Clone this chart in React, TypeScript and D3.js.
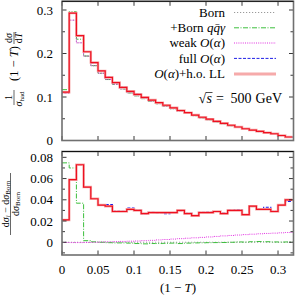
import React from 'react'
import * as d3 from 'd3'

// bin edges in (1-T)
const binEdges = [0, 0.01, 0.02, 0.03, 0.04, 0.05, 0.06, 0.07, 0.08, 0.09, 0.1, 0.11, 0.12, 0.13, 0.14, 0.15, 0.16,
  0.17, 0.18, 0.19, 0.2, 0.21, 0.22, 0.23, 0.24, 0.25, 0.26, 0.27, 0.28, 0.29, 0.3, 0.31, 0.32]

// Born distribution 1/sigma (1-T) dsigma/dT
const bornTop = [0.1087, 0.2767, 0.2246, 0.1939, 0.172, 0.1546, 0.1402, 0.1293, 0.1186, 0.1096, 0.1029, 0.0964,
  0.0905, 0.0846, 0.0788, 0.073, 0.067, 0.0623, 0.0571, 0.052, 0.0477, 0.0428, 0.0385, 0.034, 0.0301, 0.0263,
  0.0232, 0.0204, 0.0175, 0.0151, 0.0111, 0.0077]

// relative corrections (dsigma_i - dsigma_Born) / dsigma_Born
const relQQG = [0.0748, 0.07, 0.0368, 0.0015, 0.0004, 0, -0.0004, -0.0006, -0.0006, -0.0008, -0.0012, -0.0015,
  -0.0012, -0.0012, -0.001, -0.0008, -0.0012, -0.0008, -0.0006, -0.0005, -0.0004, -0.0003, -0.0002, 0, 0.0003,
  0.0002, 0.0005, 0.0007, 0.0005, 0.0003, 0.0002, 0.0003]
const relWeak = [-0.0002, -0.0003, -0.0003, -0.0002, 0, 0.0002, 0.0004, 0.0006, 0.0008, 0.001, 0.0012, 0.0015,
  0.0018, 0.0022, 0.0026, 0.003, 0.0034, 0.0038, 0.0042, 0.0046, 0.005, 0.0055, 0.006, 0.0064, 0.0068, 0.0072,
  0.0076, 0.008, 0.0083, 0.0086, 0.0089, 0.0092]
const relFull = [0.0205, 0.0585, 0.0728, 0.0522, 0.0412, 0.0352, 0.0355, 0.0295, 0.0292, 0.0322, 0.0302, 0.0268,
  0.0282, 0.0278, 0.027, 0.028, 0.0298, 0.0272, 0.025, 0.0282, 0.0285, 0.029, 0.0275, 0.03, 0.0305, 0.0262,
  0.0338, 0.0318, 0.033, 0.0292, 0.0352, 0.0385]
const relHoLL = [0.021, 0.059, 0.073, 0.052, 0.041, 0.035, 0.034, 0.029, 0.029, 0.031, 0.03, 0.027, 0.028, 0.028,
  0.028, 0.028, 0.03, 0.027, 0.025, 0.028, 0.028, 0.029, 0.027, 0.03, 0.03, 0.026, 0.034, 0.031, 0.031, 0.029,
  0.035, 0.04]

const xTicks = [0, 0.05, 0.1, 0.15, 0.2, 0.25, 0.3]
const xTickLabels = ['0', '0.05', '0.1', '0.15', '0.2', '0.25', '0.3']
const topYTicks = [0, 0.05, 0.1, 0.15, 0.2, 0.25, 0.3]
const topYLabels = [0, 0.1, 0.2, 0.3]
const botYTicks = [-0.01, 0, 0.01, 0.02, 0.03, 0.04, 0.05, 0.06, 0.07, 0.08]
const botYLabels = [0, 0.02, 0.04, 0.06, 0.08]

const FONT = "'Liberation Serif', serif"

const series = [
  { key: 'born', rel: bornTop.map(() => 0), color: '#9a9a9a', width: 1, dash: '1.2,1.8' },
  { key: 'qqg', rel: relQQG, color: '#3cbf3c', width: 1, dash: '5,1.5,1,1.5' },
  { key: 'weak', rel: relWeak, color: '#e030e0', width: 1, dash: '1,1.2' },
  { key: 'full', rel: relFull, color: '#1f1fe6', width: 1.1, dash: '3,1.5' },
  { key: 'holl', rel: relHoLL, color: '#ee1020', width: 1.2, dash: null, halo: '#f6aaaa' },
]

const x = d3.scaleLinear().domain([0, 0.3215]).range([62, 293.5])
const yTop = d3.scaleLinear().domain([0, 0.32]).range([140.5, 1.3])
const yBot = d3.scaleLinear().domain([-0.012, 0.0855]).range([255, 151.5])

function stepPath(vals: number[], y: d3.ScaleLinear<number, number>) {
  const pts: [number, number][] = binEdges.map((e, i) => [e, vals[Math.min(i, vals.length - 1)]])
  return d3.line<[number, number]>()
    .x(d => x(d[0]))
    .y(d => y(d[1]))
    .curve(d3.curveStepAfter)(pts) || ''
}

function Frame({ y, ticks, minor }: { y: d3.ScaleLinear<number, number>, ticks: number[], minor: (v: number) => boolean }) {
  const [y0, y1] = y.range()
  const [x0, x1] = x.range()
  return (
    <g>
      {xTicks.map(t => (
        <g key={'x' + t} stroke="#222" strokeWidth={0.9}>
          <line x1={x(t)} x2={x(t)} y1={y0} y2={y0 - 4.5} />
          <line x1={x(t)} x2={x(t)} y1={y1} y2={y1 + 4.5} />
        </g>
      ))}
      {ticks.map(t => {
        const len = minor(t) ? 3 : 4.5
        return (
          <g key={'y' + t} stroke="#222" strokeWidth={0.9}>
            <line x1={x0} x2={x0 + len} y1={y(t)} y2={y(t)} />
            <line x1={x1} x2={x1 - len} y1={y(t)} y2={y(t)} />
          </g>
        )
      })}
      <rect x={x0} y={y1} width={x1 - x0} height={y0 - y1} fill="none" stroke="#707070" strokeWidth={1.6} />
      <line x1={x0} x2={x1} y1={y1} y2={y1} stroke="#111" strokeWidth={1} />
    </g>
  )
}

function Curves({ y, top }: { y: d3.ScaleLinear<number, number>, top: boolean }) {
  return (
    <g>
      {series.map(s => {
        const vals = top ? bornTop.map((b, i) => b * (1 + s.rel[i])) : s.rel
        const d = stepPath(vals, y)
        return (
          <g key={s.key}>
            {s.halo && <path d={d} fill="none" stroke={s.halo} strokeWidth={2.5} />}
            <path d={d} fill="none" stroke={s.color} strokeWidth={s.width}
              strokeDasharray={s.dash || undefined} />
          </g>
        )
      })}
    </g>
  )
}

const legendRows = [
  { key: 'born', y: 12.5 },
  { key: 'qqg', y: 27.8 },
  { key: 'weak', y: 43 },
  { key: 'full', y: 58.4 },
  { key: 'holl', y: 74 },
]

function LegendText({ k }: { k: string }) {
  if (k === 'born') return <>Born</>
  if (k === 'qqg') return <>+Born <tspan fontStyle="italic">q</tspan><tspan fontStyle="italic">q&#772;</tspan><tspan fontStyle="italic">γ</tspan></>
  if (k === 'weak') return <>weak <tspan fontStyle="italic">O</tspan>(<tspan fontStyle="italic">α</tspan>)</>
  if (k === 'full') return <>full <tspan fontStyle="italic">O</tspan>(<tspan fontStyle="italic">α</tspan>)</>
  return <><tspan fontStyle="italic">O</tspan>(<tspan fontStyle="italic">α</tspan>)+h.o. LL</>
}

export default function App() {
  return (
    <svg width={295} height={297} style={{ position: 'absolute', left: 0, top: 0, background: '#fff' }}
      fontFamily={FONT}>
      <rect width={295} height={297} fill="#fff" />
      <defs>
        <clipPath id="clipTop"><rect x={62} y={1} width={231.5} height={139.5} /></clipPath>
        <clipPath id="clipBot"><rect x={62} y={151.5} width={231.5} height={103.5} /></clipPath>
      </defs>

      {/* upper panel */}
      <g clipPath="url(#clipTop)"><Curves y={yTop} top={true} /></g>
      <Frame y={yTop} ticks={topYTicks} minor={v => Math.abs(v * 10 - Math.round(v * 10)) > 1e-6} />
      {topYLabels.map(t => (
        <text key={t} x={53} y={yTop(t) + 4.5} textAnchor="end" fontSize={13}>{t === 0 ? '0' : t}</text>
      ))}

      {/* legend */}
      {legendRows.map(r => {
        const s = series.find(q => q.key === r.key)!
        return (
          <g key={r.key}>
            <text x={225} y={r.y + 4.3} textAnchor="end" fontSize={13}><LegendText k={r.key} /></text>
            <line x1={234} x2={276} y1={r.y} y2={r.y} stroke={s.halo || s.color} strokeWidth={s.halo ? 3 : 1}
              strokeDasharray={s.dash || undefined} />
          </g>
        )
      })}
      <g fontSize={14}>
        <text x={198.5} y={103}>√</text>
        <text x={206.5} y={103} fontStyle="italic">s</text>
        <line x1={206} x2={212.5} y1={92.5} y2={92.5} stroke="#000" strokeWidth={0.7} />
        <text x={216} y={103}>=</text>
        <text x={230.5} y={103}>500</text>
        <text x={282} y={103} textAnchor="end">GeV</text>
      </g>

      {/* top y title */}
      <g transform="translate(14,72) rotate(-90)" fontSize={10}>
        <text x={-25.5} y={-2} textAnchor="middle">1</text>
        <line x1={-33} x2={-18} y1={0} y2={0} stroke="#000" strokeWidth={0.6} />
        <text x={-27} y={8} textAnchor="middle" fontStyle="italic">σ<tspan fontSize={7} fontStyle="normal" dy={1.5}>had</tspan></text>
        <text x={8.5} y={4} textAnchor="middle" fontSize={12.5}>(1 − <tspan fontStyle="italic">T</tspan>)</text>
        <text x={34} y={-2} textAnchor="middle">d<tspan fontStyle="italic">σ</tspan></text>
        <line x1={28} x2={40} y1={0} y2={0} stroke="#000" strokeWidth={0.6} />
        <text x={34} y={8} textAnchor="middle">d<tspan fontStyle="italic">T</tspan></text>
      </g>

      {/* lower panel */}
      <g clipPath="url(#clipBot)"><Curves y={yBot} top={false} /></g>
      <Frame y={yBot} ticks={botYTicks} minor={v => Math.abs(v * 50 - Math.round(v * 50)) > 1e-6} />
      {botYLabels.map(t => (
        <text key={t} x={53} y={yBot(t) + 4.5} textAnchor="end" fontSize={13}>{t === 0 ? '0' : t}</text>
      ))}
      {xTicks.map((t, i) => (
        <text key={t} x={x(t)} y={273.5} textAnchor="middle" fontSize={13}>{xTickLabels[i]}</text>
      ))}
      <text x={178} y={292} textAnchor="middle" fontSize={13}>(1 − <tspan fontStyle="italic">T</tspan>)</text>

      {/* bottom y title */}
      <g transform="translate(10.5,204) rotate(-90)" fontSize={10}>
        <text x={0} y={-2} textAnchor="middle">d<tspan fontStyle="italic">σ</tspan><tspan fontSize={7} fontStyle="italic" dy={1.5}>i</tspan><tspan dy={-1.5}> − d</tspan><tspan fontStyle="italic">σ</tspan><tspan fontSize={7} dy={1.5}>Born</tspan></text>
        <line x1={-31} x2={31} y1={0} y2={0} stroke="#000" strokeWidth={0.6} />
        <text x={0} y={8} textAnchor="middle">d<tspan fontStyle="italic">σ</tspan><tspan fontSize={7} dy={1.5}>Born</tspan></text>
      </g>
    </svg>
  )
}
